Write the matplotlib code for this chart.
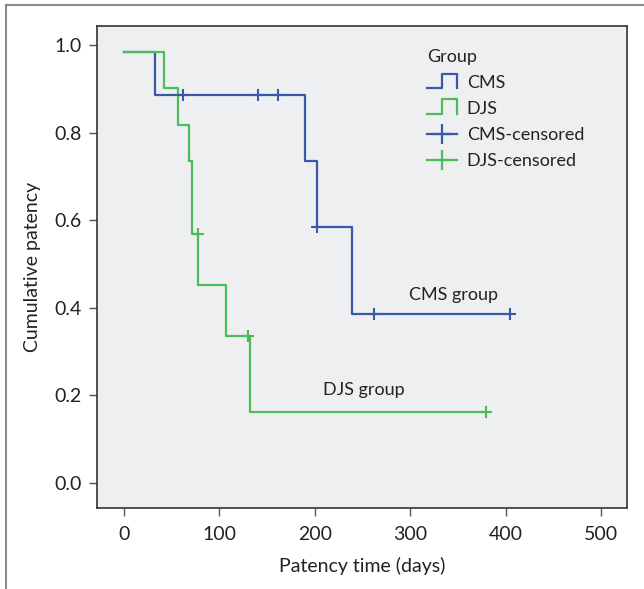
import matplotlib
matplotlib.use("Agg")
import matplotlib.pyplot as plt
from matplotlib.lines import Line2D
from matplotlib.legend_handler import HandlerBase

plt.rcParams['font.family'] = ['Lato', 'DejaVu Sans']

# Data
cms_times = [0, 32.5, 190.2, 202.7, 238.7, 404.5]
cms_surv = [0.985, 0.886, 0.735, 0.585, 0.385, 0.385]
cms_cens_t = [61.8, 140.6, 161.6, 202.7, 261.8, 404.5]
cms_cens_s = [0.886, 0.886, 0.886, 0.585, 0.385, 0.385]

djs_times = [0, 42.2, 57.2, 68.7, 71.2, 78.1, 106.8, 132.6, 379]
djs_surv = [0.985, 0.903, 0.818, 0.735, 0.569, 0.452, 0.336, 0.161, 0.161]
djs_cens_t = [78.1, 129.8, 379]
djs_cens_s = [0.569, 0.336, 0.161]

x_ticks = [0, 100, 200, 300, 400, 500]
y_ticks = [0.0, 0.2, 0.4, 0.6, 0.8, 1.0]

BLUE = '#3a58aa'
GREEN = '#4cbb5a'
FS = 14
FS2 = 13

fig = plt.figure(figsize=(6.44, 5.89), dpi=100)
ax = fig.add_axes([0.150, 0.1370, 0.824, 0.8194])
ax.set_facecolor('#eeeff0')

ax.step(cms_times, cms_surv, where='post', color=BLUE, lw=1.6)
ax.step(djs_times, djs_surv, where='post', color=GREEN, lw=1.6)
ax.plot(cms_cens_t, cms_cens_s, ls='none', marker='+', ms=9, mew=1.5, color=BLUE)
ax.plot(djs_cens_t, djs_cens_s, ls='none', marker='+', ms=9, mew=1.5, color=GREEN)

ax.set_xlim(-28.3, 527.3)
ax.set_ylim(-0.059, 1.045)
ax.set_xticks(x_ticks)
ax.set_yticks(y_ticks)
ax.set_yticklabels([f'{v:.1f}' for v in y_ticks])
ax.tick_params(axis='both', direction='out', length=6, width=1, color='#555555',
               labelsize=FS, labelcolor='#222222', pad=5)
ax.tick_params(axis='x', pad=7)
for s in ax.spines.values():
    s.set_color('#333333')
    s.set_linewidth(1.2)

ax.set_xlabel('Patency time (days)', fontsize=FS, color='#222222', labelpad=10)
ax.set_ylabel('Cumulative patency', fontsize=FS, color='#222222', labelpad=9)

ax.text(345, 0.429, 'CMS group', fontsize=FS2, ha='center', va='center', color='#222222')
ax.text(251.6, 0.212, 'DJS group', fontsize=FS2, ha='center', va='center', color='#222222')


class StepHandler(HandlerBase):
    def create_artists(self, legend, orig_handle, xdescent, ydescent,
                       width, height, fontsize, trans):
        x0 = -xdescent
        y0 = -ydescent
        w = width
        h = height * 1.15
        xs = [x0, x0 + w * 0.5, x0 + w * 0.5, x0 + w, x0 + w]
        ys = [y0, y0, y0 + h, y0 + h, y0]
        ln = Line2D(xs, ys, color=orig_handle.get_color(), lw=1.6)
        ln.set_transform(trans)
        return [ln]


h_cms = Line2D([], [], color=BLUE, lw=1.6)
h_djs = Line2D([], [], color=GREEN, lw=1.6)
h_cmsc = Line2D([], [], color=BLUE, lw=1.6, marker='+', ms=14, mew=1.6)
h_djsc = Line2D([], [], color=GREEN, lw=1.6, marker='+', ms=14, mew=1.6)

leg = ax.legend([h_cms, h_djs, h_cmsc, h_djsc],
                ['CMS', 'DJS', 'CMS-censored', 'DJS-censored'],
                handler_map={h_cms: StepHandler(), h_djs: StepHandler()},
                title='Group', loc='upper left', bbox_to_anchor=(0.592, 0.985),
                frameon=False, fontsize=FS2, title_fontsize=FS2,
                handlelength=1.65, handletextpad=0.55, labelspacing=0.55,
                alignment='left', numpoints=1)
for t in leg.get_texts():
    t.set_color('#222222')
leg.get_title().set_color('#222222')

# outer frame (left and top edges visible)
fig.add_artist(Line2D([0.0093, 0.0093], [0, 0.9915], transform=fig.transFigure,
                      color='#8a8a8a', lw=1.5))
fig.add_artist(Line2D([0.0093, 1.0], [0.9915, 0.9915], transform=fig.transFigure,
                      color='#8a8a8a', lw=1.5))

fig.savefig('out.png', dpi=100, facecolor='white')
